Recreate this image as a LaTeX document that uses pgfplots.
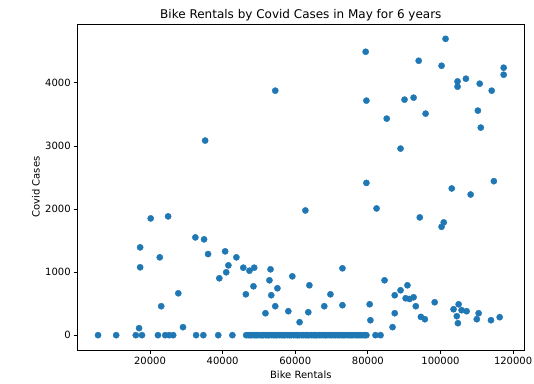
\documentclass[border=0pt]{standalone}
\usepackage{fontspec}
\setmainfont{DejaVu Sans}
\usepackage{pgfplots}
\pgfplotsset{compat=1.18}
\definecolor{tabblue}{HTML}{1F77B4}
\begin{document}
\begin{tikzpicture}
\useasboundingbox (0,0) rectangle (534bp,384bp);
\begin{axis}[
  at={(77.7bp,34bp)}, anchor=south west,
  scale only axis, width=446.3bp, height=326bp,
  xmin=100, xmax=123000, ymin=-235, ymax=4933,
  xtick={20000,40000,60000,80000,100000,120000},
  ytick={0,1000,2000,3000,4000},
  scaled x ticks=false, scaled y ticks=false,
  xticklabel style={/pgf/number format/.cd, fixed, 1000 sep={}},
  yticklabel style={/pgf/number format/.cd, fixed, 1000 sep={}},
  /pgf/number format/assume math mode=true,
  tick align=outside, major tick length=3.5bp,
  tick style={black, line width=0.8bp},
  axis line style={black, line width=0.8bp},
  xtick pos=bottom, ytick pos=left,
  ticklabel style={font=\fontsize{10bp}{12bp}\selectfont},
  title={Bike Rentals by Covid Cases in May for 6 years},
  title style={at={(0.5,1)}, anchor=base, font=\fontsize{12bp}{14bp}\selectfont},
  xlabel={Bike Rentals},
  xlabel style={at={(0.5,0)}, anchor=base, yshift=-29bp, font=\fontsize{10bp}{12bp}\selectfont},
  ylabel={Covid Cases},
  ylabel style={at={(0,0.5)}, anchor=base, yshift=38bp, font=\fontsize{10bp}{12bp}\selectfont},
  clip=false,
]
\addplot[only marks, mark=*, mark size=3.1bp, color=tabblue, mark options={draw=tabblue, fill=tabblue}] coordinates {
(5700,0) (10700,0) (16100,0) (17800,0) (22200,0) (24200,0) (25300,0) (26400,0)
(32700,0) (34700,0) (38800,0) (42700,0) (82100,0) (83500,0)
(46500,0) (47100,0) (47600,0) (48000,0) (48700,0) (49200,0) (49600,0) (50300,0)
(50800,0) (51200,0) (51900,0) (52400,0) (52800,0) (53500,0) (54100,0) (54600,0)
(55000,0) (55700,0) (56300,0) (56800,0) (57200,0) (57900,0) (58500,0) (58900,0)
(59600,0) (60200,0) (60700,0) (61100,0) (61800,0) (62300,0) (62900,0) (63400,0)
(63800,0) (64500,0) (65100,0) (65600,0) (66000,0) (66700,0) (67200,0) (67800,0)
(68300,0) (68700,0) (69400,0) (69900,0) (70500,0) (71000,0) (71600,0) (72100,0)
(72700,0) (73200,0) (73600,0) (74300,0) (74900,0) (75400,0) (75800,0) (76500,0)
(77100,0) (77600,0) (78100,0) (78700,0) (79200,0) (79600,0)
(17000,111) (17300,1392) (17300,1076) (20200,1851) (25000,1883) (22700,1234)
(23100,459) (27800,664) (29100,127) (32500,1550) (34900,1519) (36000,1286)
(39100,902) (40700,1329) (41000,997) (41600,1107) (43800,1234) (45700,1070)
(47400,1022) (48700,1070) (46400,648) (48500,775) (51800,348) (52900,870)
(53200,1044) (53400,633) (54500,459) (55100,744) (58100,380) (59200,933) (61200,206)
(79600,2414) (103100,2326) (108300,2230) (114700,2441) (62800,1977) (82400,2009)
(94300,1867) (100300,1718) (100900,1788) (73000,1060) (63900,791) (69700,648)
(84600,870) (87400,633) (89000,712) (90900,791) (90400,585) (91500,574) (92600,601)
(93200,459) (98400,522) (103600,411) (105000,490) (105800,396) (107200,380)
(104500,301) (104800,190) (110500,348) (110000,253) (113900,237) (116300,285)
(94600,290) (95700,253) (63600,364) (68000,459) (73000,475) (80500,490) (80700,237)
(87400,348) (86800,127)
(101400,4698) (79400,4493) (94000,4350) (100300,4271) (117400,4240) (117400,4129)
(104700,4023) (104700,3939) (107000,4066) (110800,3987) (114100,3876) (79600,3718)
(90100,3734) (92600,3765) (85200,3433) (95900,3512) (110300,3560) (111100,3291)
(89000,2958) (35200,3085) (54500,3876)
};
\end{axis}
\end{tikzpicture}
\end{document}
